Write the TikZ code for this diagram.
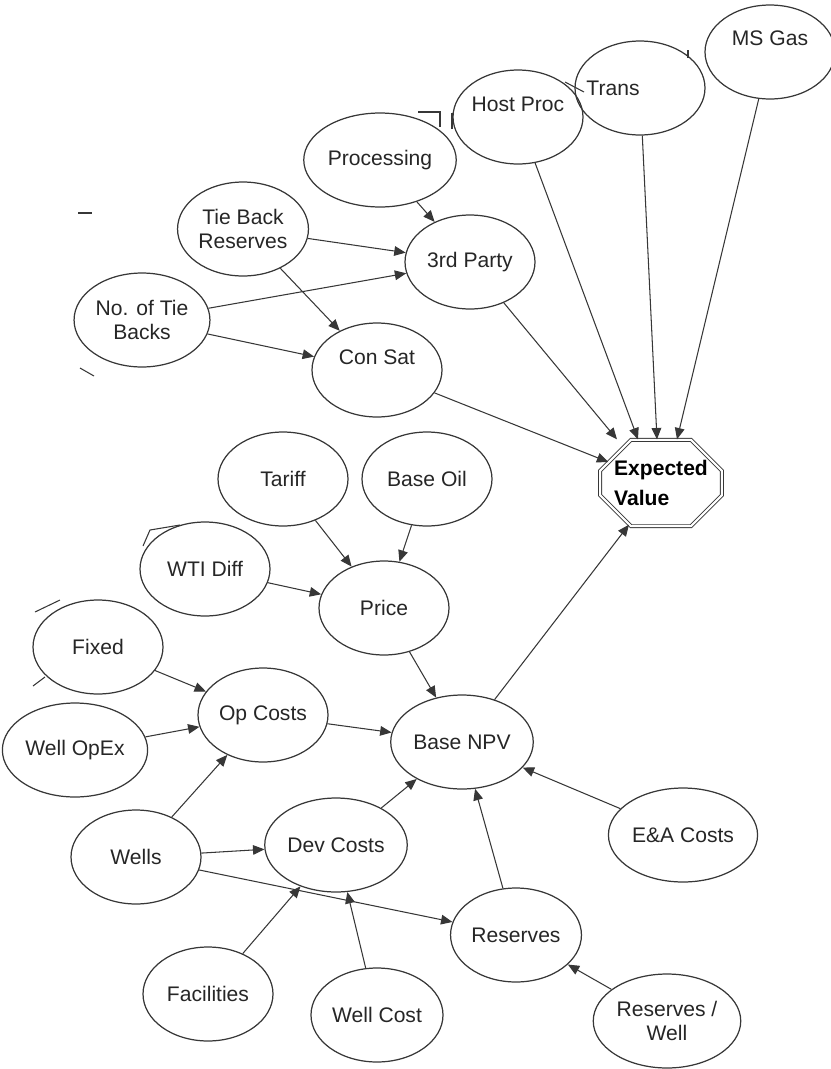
\documentclass[tikz,border=0pt]{standalone}
\usepackage{fontspec}
\setmainfont{Liberation Sans}
\usetikzlibrary{arrows.meta,shapes.geometric,shapes.misc,positioning,calc}
\definecolor{inkcol}{RGB}{55,55,55}

\begin{document}
\begin{tikzpicture}[x=0.02cm, y=-0.02cm,
  every node/.style={font=\fontsize{12}{14}\selectfont, text=black!85},
  chance/.style={draw=inkcol, ellipse, line width=0.7pt, minimum width=2.6cm,
    minimum height=1.88cm, inner sep=1pt, align=center},
  value/.style={draw=inkcol, chamfered rectangle, chamfered rectangle xsep=0.28cm,
    chamfered rectangle ysep=0.34cm, double, double distance=1.2pt, line width=0.5pt,
    inner xsep=0pt, inner ysep=2pt, align=left,
    font=\fontsize{12}{17}\selectfont\bfseries, text=black},
  link/.style={draw=inkcol, line width=0.6pt, -{Triangle[length=6.5pt,width=5.5pt]}},
  stray/.style={draw=inkcol, line width=0.6pt}]
  \useasboundingbox (0,0) rectangle (831,1069);

  % top row: gas route into the value node
  \node[chance, label={[yshift=0.28cm]center:MS Gas}] (msgas) at (770,52) {};
  \node[chance, label={[xshift=-0.54cm]center:Trans}] (trans) at (640,88) {};
  \node[chance, label={[yshift=0.26cm]center:Host Proc}] (hostproc) at (518,117) {};
  \node[chance] (processing) at (380,160) {Processing};
  \node[chance] (tieres) at (243,229) {Tie Back\\Reserves};
  \node[chance] (thirdparty) at (470,262) {3rd Party};
  \node[chance] (notie) at (142,320) {No. of Tie\\Backs};
  \node[chance, label={[yshift=0.26cm]center:Con Sat}] (consat) at (377,370) {};
  \node[value] (ev) at (661,483) {Expected\\Value};

  % price and costs
  \node[chance] (tariff) at (283,479) {Tariff};
  \node[chance] (baseoil) at (427,479) {Base Oil};
  \node[chance] (wti) at (205,569) {WTI Diff};
  \node[chance] (price) at (384,608) {Price};
  \node[chance] (fixed) at (98,647) {Fixed};
  \node[chance] (opcosts) at (263,715) {Op Costs};
  \node[chance] (wellopex) at (75,750) {Well OpEx};
  \node[chance] (basenpv) at (462,742) {Base NPV};
  \node[chance] (wells) at (136,857) {Wells};
  \node[chance] (devcosts) at (336,845) {Dev Costs};
  \node[chance] (eacosts) at (683,835) {E\&A Costs};
  \node[chance] (reserves) at (516,935) {Reserves};
  \node[chance] (facilities) at (208,994) {Facilities};
  \node[chance] (wellcost) at (377,1015) {Well Cost};
  \node[chance] (reswell) at (667,1021) {Reserves /\\Well};

  % links into Expected Value
  \draw[link] (hostproc) -- ($(ev.north)+(-23,0)$);
  \draw[link] (trans) -- ($(ev.north)+(-4,0)$);
  \draw[link] (msgas) -- ($(ev.north)+(16,0)$);
  \draw[link] (thirdparty) -- ($(ev.north)+(-44,0)$);
  \draw[link] (consat) -- (ev);
  \draw[link] (basenpv) -- (ev);

  % tie back links
  \draw[link] (processing) -- (thirdparty);
  \draw[link] (tieres) -- (thirdparty);
  \draw[link] (tieres) -- (consat);
  \draw[link] (notie) -- (thirdparty);
  \draw[link] (notie) -- (consat);

  % base case links
  \draw[link] (tariff) -- (price);
  \draw[link] (baseoil) -- (price);
  \draw[link] (wti) -- (price);
  \draw[link] (price) -- (basenpv);
  \draw[link] (fixed) -- (opcosts);
  \draw[link] (wellopex) -- (opcosts);
  \draw[link] (opcosts) -- (basenpv);
  \draw[link] (wells) -- (opcosts);
  \draw[link] (wells) -- (devcosts);
  \draw[link] (wells) -- (reserves);
  \draw[link] (devcosts) -- (basenpv);
  \draw[link] (facilities) -- (devcosts);
  \draw[link] (wellcost) -- (devcosts);
  \draw[link] (reserves) -- (basenpv);
  \draw[link] (eacosts) -- (basenpv);
  \draw[link] (reswell) -- (reserves);

  % cut-off stubs at the edges of the view
  \draw[stray] (78,213) -- (92,213);
  \draw[stray] (80,368) -- (94,376);
  \draw[stray] (35,612) -- (60,600);
  \draw[stray] (33,686) -- (45,677);
  \draw[stray] (143,546) -- (150,530) -- (180,525);
  \draw[stray] (418,112) -- (440,112) -- (440,127);
  \draw[stray] (452,113) -- (452,129);
  \draw[stray] (565,82) -- (584,92);
  \draw[stray, line width=1.2pt] (688,50) -- (688,58);
\end{tikzpicture}
\end{document}
